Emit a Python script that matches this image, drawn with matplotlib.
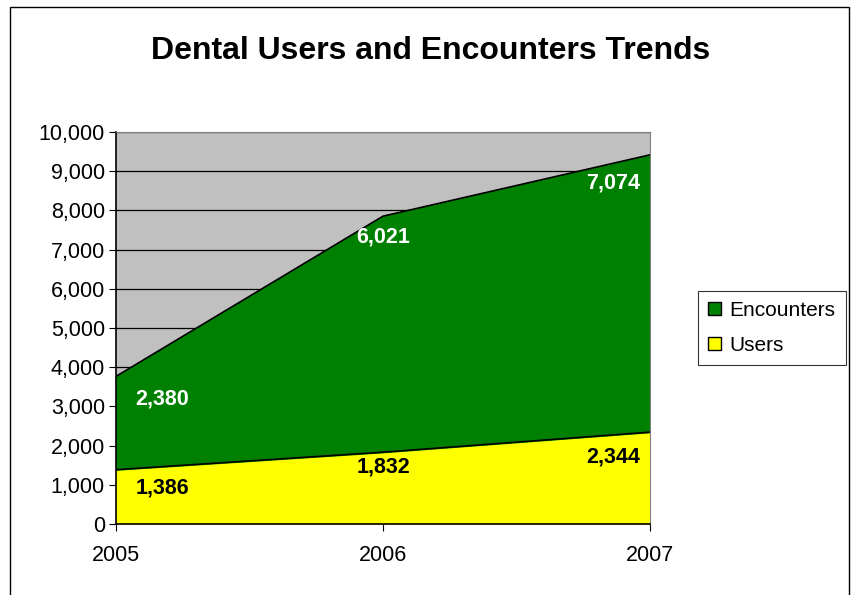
import matplotlib.pyplot as plt
from matplotlib.patches import Patch, Rectangle
from matplotlib.ticker import FuncFormatter

plt.rcParams['font.family'] = ['Liberation Sans', 'DejaVu Sans']

# --- Data ---
years = ['2005', '2006', '2007']
users = [1386, 1832, 2344]
encounters = [2380, 6021, 7074]

x = list(range(len(years)))
top = [u + e for u, e in zip(users, encounters)]

fig = plt.figure(figsize=(8.56, 5.95), dpi=100)
fig.patches.append(Rectangle((0.012, -0.01), 0.98, 0.998, transform=fig.transFigure,
                             fill=False, edgecolor='black', linewidth=1.0))
ax = fig.add_axes([116 / 856, 1 - 524 / 595, (650 - 116) / 856, (524 - 132) / 595])

ax.set_facecolor('#C0C0C0')
ax.fill_between(x, 0, users, color='#FFFF00', zorder=2)
ax.fill_between(x, users, top, color='#008000', zorder=2)
ax.plot(x, users, color='black', linewidth=1.2, zorder=3)
ax.plot(x, top, color='black', linewidth=1.2, zorder=3)

ax.set_xlim(0, 2)
ax.set_ylim(0, 10000)
ax.set_yticks(range(0, 10001, 1000))
ax.yaxis.set_major_formatter(FuncFormatter(lambda v, p: f'{int(v):,}'))
ax.grid(axis='y', color='black', linewidth=0.9, zorder=1)
ax.set_axisbelow(True)
ax.set_xticks(x)
ax.set_xticklabels(years)
ax.tick_params(axis='both', labelsize=15.5, direction='out', length=5, color='black')
ax.tick_params(axis='y', pad=3)
ax.tick_params(axis='x', pad=10)

for s in ['top', 'right']:
    ax.spines[s].set_color('#808080')
for s in ['left', 'bottom']:
    ax.spines[s].set_color('black')
    ax.spines[s].set_linewidth(1.2)

# value labels: (dx, dy) offsets in points and alignment
user_off = [(14, -13), (0, -11), (-7, -18)]
enc_off = [(14, -16), (0, -15), (-7, -20)]
aligns = ['left', 'center', 'right']
for i in x:
    ax.annotate(f'{users[i]:,}', xy=(i, users[i]), xytext=user_off[i],
                textcoords='offset points', ha=aligns[i], va='center', fontsize=15.5,
                fontweight='bold', color='black', zorder=5)
    ax.annotate(f'{encounters[i]:,}', xy=(i, top[i]), xytext=enc_off[i],
                textcoords='offset points', ha=aligns[i], va='center', fontsize=15.5,
                fontweight='bold', color='white', zorder=5)

fig.text(431 / 856, 1 - 51 / 595, 'Dental Users and Encounters Trends', ha='center', va='center',
         fontsize=23, fontweight='bold')

handles = [Patch(facecolor='#008000', edgecolor='black', label='Encounters'),
           Patch(facecolor='#FFFF00', edgecolor='black', label='Users')]
leg = fig.legend(handles=handles, loc='center left', bbox_to_anchor=(698 / 856, 1 - 328 / 595),
                 fontsize=15, frameon=True, fancybox=False, edgecolor='black',
                 handlelength=0.6, handleheight=0.6, handletextpad=0.4, labelspacing=0.75,
                 borderpad=0.5, borderaxespad=0)
leg.get_frame().set_linewidth(0.8)

fig.savefig('out.png', dpi=100)
